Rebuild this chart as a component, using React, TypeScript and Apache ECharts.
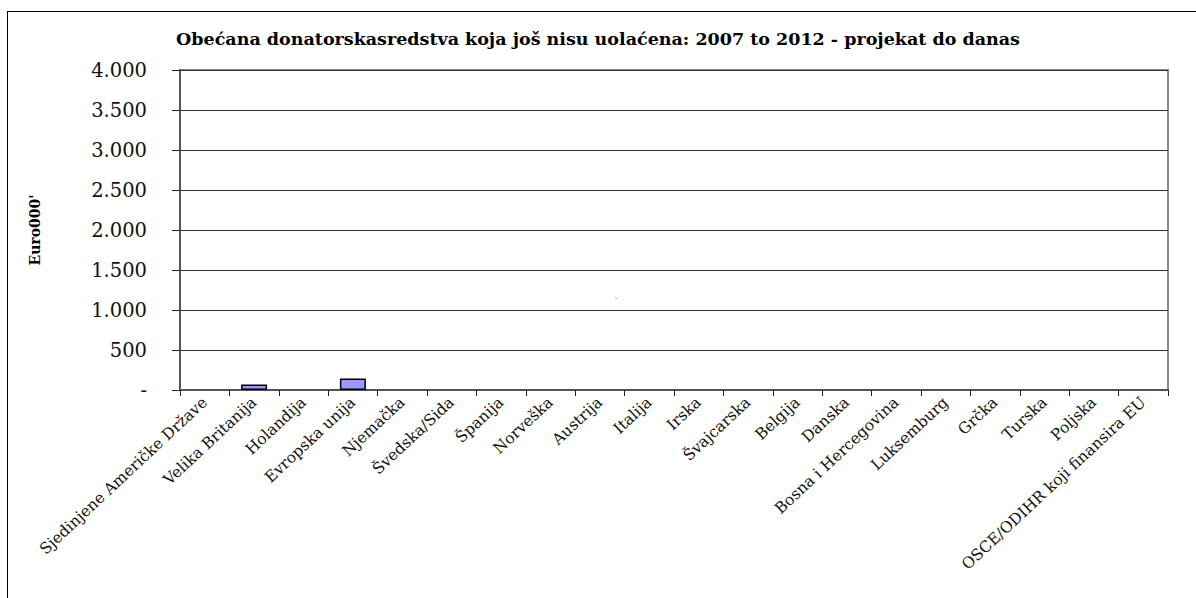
import React, { useEffect, useRef } from "react";
import * as echarts from "echarts";

const categories = [
  "Sjedinjene Američke Države",
  "Velika Britanija",
  "Holandija",
  "Evropska unija",
  "Njemačka",
  "Švedska/Sida",
  "Španija",
  "Norveška",
  "Austrija",
  "Italija",
  "Irska",
  "Švajcarska",
  "Belgija",
  "Danska",
  "Bosna i Hercegovina",
  "Luksemburg",
  "Grčka",
  "Turska",
  "Poljska",
  "OSCE/ODIHR koji finansira EU",
];
const values = [0, 70, 0, 145, 0, 0, 0, 0, 0, 0, 0, 0, 0, 0, 0, 0, 0, 0, 0, 0];
const yTicks = [0, 500, 1000, 1500, 2000, 2500, 3000, 3500, 4000];
const titleText = "Obećana donatorskasredstva koja još nisu uolaćena: 2007 to 2012 - projekat do danas";
const yName = "Euro000'";

const serif = "'DejaVu Serif', 'Liberation Serif', serif";

export default function App() {
  const ref = useRef<HTMLDivElement>(null);
  useEffect(() => {
    if (!ref.current) return;
    const chart = echarts.init(ref.current, null, { renderer: "svg" });
    chart.setOption({
      animation: false,
      backgroundColor: "#fff",
      title: {
        text: titleText,
        left: "center",
        top: 25,
        textStyle: { fontFamily: serif, fontSize: 17.5, fontWeight: "bold", color: "#000" },
      },
      grid: {
        left: 180,
        right: 28,
        top: 70,
        bottom: 208,
        show: true,
        borderColor: "#888",
        borderWidth: 2,
      },
      graphic: [
        { type: "line", shape: { x1: 7.5, y1: 11, x2: 7.5, y2: 598 }, style: { stroke: "#000", lineWidth: 1 } },
        { type: "line", shape: { x1: 7, y1: 11.5, x2: 1196, y2: 11.5 }, style: { stroke: "#000", lineWidth: 1 } },
        { type: "text", x: 614, y: 296, style: { text: "`", fontSize: 10, fill: "#555", fontFamily: serif } },
      ],
      xAxis: {
        type: "category",
        data: categories,
        axisLine: { lineStyle: { color: "#555", width: 2 } },
        axisTick: { show: true, length: 6, alignWithLabel: false, lineStyle: { color: "#222" } },
        axisLabel: {
          rotate: 43,
          interval: 0,
          margin: 10,
          fontSize: 15.5,
          fontFamily: serif,
          color: "#111",
        },
      },
      yAxis: {
        type: "value",
        min: yTicks[0],
        max: yTicks[yTicks.length - 1],
        interval: 500,
        name: yName,
        nameLocation: "middle",
        nameRotate: 90,
        nameGap: 138,
        nameTextStyle: { fontFamily: serif, fontSize: 14, fontWeight: "bold", color: "#000" },
        axisLine: { show: true, lineStyle: { color: "#555", width: 2 } },
        axisTick: { show: true, length: 8, inside: false, lineStyle: { color: "#222" } },
        splitLine: { show: true, lineStyle: { color: "#333", width: 1 } },
        axisLabel: {
          margin: 33,
          fontSize: 19.5,
          fontFamily: serif,
          color: "#111",
          formatter: (v: number) =>
            v === 0 ? "-" : v.toString().replace(/\B(?=(\d{3})+(?!\d))/g, "."),
        },
      },
      series: [
        {
          type: "bar",
          data: values.map((v) => (v === 0 ? null : v)),
          barWidth: 26,
          itemStyle: { color: "#9999ff", borderColor: "#000", borderWidth: 1.5 },
        },
      ],
    });
    return () => chart.dispose();
  }, []);
  return (
    <div
      ref={ref}
      style={{ position: "fixed", left: 0, top: 0, width: 1196, height: 598 }}
    />
  );
}
